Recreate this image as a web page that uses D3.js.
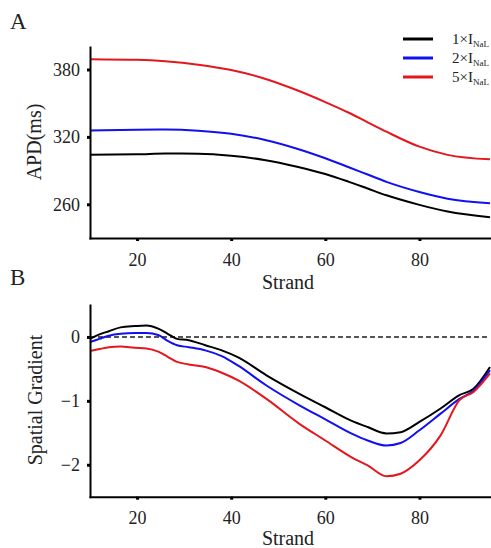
<!DOCTYPE html>
<html>
<head>
<meta charset="utf-8">
<script src="https://d3js.org/d3.v7.min.js"></script>
<style>
  body { margin: 0; background: #fff; }
  svg text { font-family: "Liberation Serif", "Times New Roman", serif; fill: #222; }
</style>
</head>
<body>
<div id="chart"></div>
<script>
// panel A: APD along the strand
var strandA = [10, 20, 26, 33, 40, 47, 54, 60, 65, 69, 73, 80, 86, 95];
var apd1 = [304.2, 304.5, 305.2, 305, 303.2, 299.5, 293.5, 287, 280, 274, 268, 259.5, 253.5, 248.5];
var apd2 = [325.7, 326.3, 326.5, 325.5, 322.8, 317.5, 309.5, 301, 293, 286.5, 280, 271, 265, 261];
var apd5 = [389.2, 388.6, 387.3, 384.3, 379.5, 372, 361.5, 351, 341.5, 333, 324.6, 311.3, 304, 300];

// panel B: spatial gradient
var strandB = [10, 12, 14, 16.5, 19.5, 22, 24.5, 26.5, 28.5, 31, 34.5, 38, 41.5, 47.5, 54.5, 60, 65.5, 69, 73, 76, 80, 84.5, 88.5, 91.5, 95];
var grad1 = [-0.03, 0.04, 0.09, 0.15, 0.17, 0.18, 0.13, 0.05, -0.03, -0.05, -0.13, -0.21, -0.32, -0.60, -0.89, -1.10, -1.31, -1.41, -1.51, -1.49, -1.33, -1.12, -0.91, -0.81, -0.47];
var grad2 = [-0.08, -0.03, 0.02, 0.05, 0.06, 0.06, 0.03, -0.06, -0.13, -0.16, -0.21, -0.30, -0.45, -0.76, -1.07, -1.29, -1.51, -1.62, -1.70, -1.66, -1.46, -1.20, -0.97, -0.84, -0.52];
var grad5 = [-0.22, -0.19, -0.16, -0.15, -0.17, -0.18, -0.23, -0.31, -0.39, -0.43, -0.47, -0.56, -0.68, -0.97, -1.36, -1.62, -1.88, -2.01, -2.18, -2.14, -1.93, -1.54, -0.99, -0.86, -0.57];

var seriesNames = ["1", "2", "5"];
var colors = ["#000000", "#1010f0", "#e4161e"];

var xTicks = [20, 40, 60, 80];
var yTicksA = [260, 320, 380];
var yTicksB = [-2, -1, 0];

var svgWidth = 491;
var svgHeight = 548;

var svg = d3.select("#chart")
  .append("svg")
  .attr("width", svgWidth)
  .attr("height", svgHeight);

// both panels share the same x range
var left = 90, right = 490;

function drawPanel(cfg) {
  var x = d3.scaleLinear().domain([10, 95]).range([left, right]);
  var y = d3.scaleLinear().domain(cfg.yDomain).range([cfg.bottom, cfg.top]);

  var g = svg.append("g");

  if (cfg.zeroLine) {
    g.append("line")
      .attr("x1", left).attr("x2", right)
      .attr("y1", y(0)).attr("y2", y(0))
      .attr("stroke", "#555")
      .attr("stroke-width", 2)
      .attr("stroke-dasharray", "5,3");
  }

  var line = d3.line()
    .x(d => x(d[0]))
    .y(d => y(d[1]))
    .curve(cfg.curve);

  cfg.series.forEach(function(vals, i) {
    g.append("path")
      .attr("d", line(cfg.xs.map((s, j) => [s, vals[j]])))
      .attr("fill", "none")
      .attr("stroke", colors[i])
      .attr("stroke-width", 2);
  });

  var xAxis = g.append("g")
    .attr("transform", `translate(0, ${cfg.bottom})`)
    .call(d3.axisBottom(x).tickValues(xTicks).tickSize(3).tickSizeOuter(0).tickPadding(12));
  var yAxis = g.append("g")
    .attr("transform", `translate(${left}, 0)`)
    .call(d3.axisLeft(y).tickValues(cfg.yTicks).tickSize(3).tickSizeOuter(0).tickPadding(7)
      .tickFormat(d => d < 0 ? "\u2212" + Math.abs(d) : d));

  [xAxis, yAxis].forEach(function(ax) {
    ax.attr("font-family", null);
    ax.select(".domain").attr("stroke", "#000").attr("stroke-width", 2).attr("stroke-linecap", "square");
    ax.selectAll(".tick line").attr("stroke", "#000").attr("stroke-width", 3);
    ax.selectAll(".tick text").attr("font-size", 18)
      .style("fill", "#222")
      .style("font-family", '"Liberation Serif", serif');
  });

  // axis titles
  g.append("text")
    .attr("x", 288).attr("y", cfg.xTitleY)
    .attr("text-anchor", "middle")
    .attr("font-size", 20)
    .text("Strand");
  g.append("text")
    .attr("transform", `translate(${cfg.yTitleX}, ${cfg.yTitleY}) rotate(-90)`)
    .attr("text-anchor", "middle")
    .attr("font-size", 20)
    .text(cfg.yTitle);

  // panel letter
  g.append("text")
    .attr("x", 10).attr("y", cfg.letterY)
    .attr("font-size", 23)
    .text(cfg.letter);
}

drawPanel({
  letter: "A", letterY: 29,
  top: 47, bottom: 238, yDomain: [230, 400], yTicks: yTicksA,
  xs: strandA, series: [apd1, apd2, apd5], curve: d3.curveMonotoneX,
  yTitle: "APD(ms)", yTitleX: 41, yTitleY: 142, xTitleY: 289
});

drawPanel({
  letter: "B", letterY: 285,
  top: 305, bottom: 496.7, yDomain: [-2.5, 0.5], yTicks: yTicksB,
  xs: strandB, series: [grad1, grad2, grad5], curve: d3.curveMonotoneX, zeroLine: true,
  yTitle: "Spatial Gradient", yTitleX: 42, yTitleY: 400, xTitleY: 545
});

// legend
var legend = svg.append("g");
var legendY = d3.scalePoint().domain(seriesNames).range([39, 77]);
seriesNames.forEach(function(n, i) {
  var ly = legendY(n);
  legend.append("line")
    .attr("x1", 403).attr("x2", 433)
    .attr("y1", ly).attr("y2", ly)
    .attr("stroke", colors[i])
    .attr("stroke-width", 3);
  var t = legend.append("text")
    .attr("x", 452).attr("y", ly + 5)
    .attr("font-size", 15);
  t.append("tspan").text(n + "\u00d7I");
  t.append("tspan").attr("font-size", 9).attr("dy", 3).text("NaL");
});
</script>
</body>
</html>
